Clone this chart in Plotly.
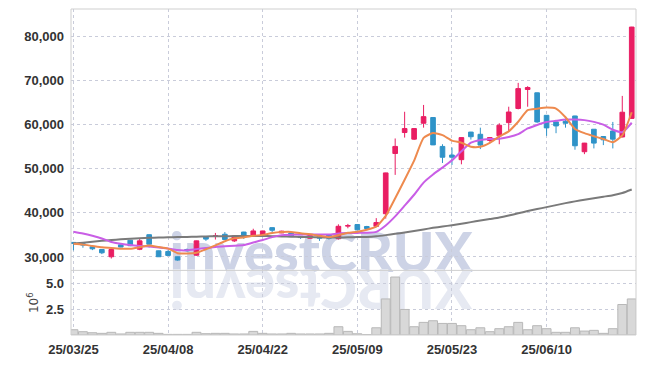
import plotly.graph_objects as go

dates = [
    "2025-03-25", "2025-03-26", "2025-03-27", "2025-03-28", "2025-03-31",
    "2025-04-01", "2025-04-02", "2025-04-03", "2025-04-04", "2025-04-07",
    "2025-04-08", "2025-04-09", "2025-04-10", "2025-04-11", "2025-04-14",
    "2025-04-15", "2025-04-16", "2025-04-17", "2025-04-18", "2025-04-21",
    "2025-04-22", "2025-04-23", "2025-04-24", "2025-04-25", "2025-04-28",
    "2025-04-29", "2025-04-30", "2025-05-02", "2025-05-07", "2025-05-08",
    "2025-05-09", "2025-05-12", "2025-05-13", "2025-05-14", "2025-05-15",
    "2025-05-16", "2025-05-19", "2025-05-20", "2025-05-21", "2025-05-22",
    "2025-05-23", "2025-05-26", "2025-05-27", "2025-05-28", "2025-05-29",
    "2025-05-30", "2025-06-02", "2025-06-04", "2025-06-05", "2025-06-09",
    "2025-06-10", "2025-06-11", "2025-06-12", "2025-06-13", "2025-06-16",
    "2025-06-17", "2025-06-18", "2025-06-19", "2025-06-20", "2025-06-23",
]

opens = [33300, 33000, 32300, 31700, 30050, 32750, 33800, 31750, 35050, 31400,
         31250, 30050, 31700, 30400, 34550, 34700, 35150, 33650, 35650, 34750,
         34750, 36650, 35450, 35450, 34700, 34250, 34700, 35050, 34150, 37000,
         37350, 36900, 36950, 39800, 53450, 58200, 56700, 60300, 61600, 55050,
         53100, 52050, 58300, 57800, 56400, 57450, 60450, 63650, 67950, 67200,
         62100, 60600, 60750, 61950, 53850, 58950, 57300, 58550, 57200, 61400]
highs = [33400, 33050, 32500, 31750, 31800, 32800, 33850, 34250, 35100, 31450,
         31550, 30100, 31900, 33700, 34600, 35450, 35650, 34850, 35700, 36400,
         35950, 36700, 35950, 35500, 34750, 34900, 34750, 35100, 37400, 37500,
         37400, 37050, 38800, 49100, 56850, 62900, 59200, 64450, 61650, 55550,
         54800, 57100, 58350, 59300, 57150, 60300, 64050, 69450, 68700, 67250,
         62150, 60650, 61350, 62000, 55850, 59000, 57350, 60600, 66500, 82150]
lows = [31500, 32100, 31550, 30650, 29650, 32200, 32450, 31550, 32150, 30000,
        30300, 29150, 31200, 30300, 33650, 33950, 33900, 33400, 34100, 34550,
        34550, 35600, 35400, 34650, 34100, 34150, 33650, 33950, 33950, 36500,
        36000, 36300, 36800, 38700, 48600, 57050, 56500, 59300, 55350, 51300,
        50850, 51000, 56600, 54450, 56100, 55550, 58550, 63450, 64050, 60400,
        57450, 58050, 59300, 54300, 53300, 54600, 55350, 54600, 57100, 61300]
closes = [33100, 32700, 31850, 30950, 31700, 32250, 32550, 33650, 32900, 30050,
          30350, 29300, 31400, 33650, 34050, 34800, 33950, 34770, 34550, 35900,
          35900, 36050, 35850, 34700, 34400, 34850, 34250, 34250, 36950, 37100,
          36150, 36450, 37800, 49050, 55050, 59100, 59100, 61800, 55400, 52600,
          52600, 57050, 57250, 55350, 57050, 59850, 62850, 68150, 68400, 60600,
          59250, 59700, 60300, 55200, 55800, 55800, 56550, 56700, 62800, 82100]

ma5 = [33000, 32800, 32500, 32200, 32060, 31890, 31860, 32220, 32610, 32270,
       31900, 30850, 30800, 30950, 31750, 32640, 33570, 34240, 34420, 34790,
       35010, 35430, 35650, 35680, 35380, 35170, 34810, 34490, 34940, 35480,
       35740, 36180, 36890, 39310, 43320, 47490, 51820, 56980, 58090, 57600,
       56370, 55890, 54980, 54970, 55860, 57310, 58470, 60650, 63260, 63580,
       63850, 63620, 61650, 59010, 58050, 57360, 56730, 56010, 57530, 62790]
ma10 = [35700, 35300, 34800, 34200, 33400, 33000, 32700, 32500, 32350, 32170,
        31900, 31560, 31510, 31780, 32020, 32270, 32410, 32520, 32690, 33270,
        33830, 34500, 34950, 35050, 35090, 35090, 35120, 35070, 35310, 35430,
        35460, 35500, 35690, 37130, 39190, 41620, 44100, 46860, 48700, 50250,
        51900, 53960, 55900, 56530, 56730, 56810, 57180, 57820, 59120, 59920,
        60580, 60850, 61150, 61140, 61010, 60610, 59980, 58830, 58270, 60420]
ma60 = [33050, 33250, 33450, 33650, 33850, 34000, 34150, 34250, 34350, 34400,
        34450, 34500, 34550, 34600, 34650, 34700, 34700, 34750, 34750, 34750,
        34750, 34700, 34650, 34600, 34550, 34500, 34450, 34400, 34400, 34450,
        34500, 34550, 34700, 34950, 35250, 35550, 35900, 36250, 36600, 36900,
        37200, 37550, 37900, 38250, 38600, 38950, 39400, 39900, 40400, 40850,
        41300, 41750, 42200, 42600, 42950, 43300, 43650, 44000, 44500, 45300]

volume_m = [0.51, 0.32, 0.22, 0.16, 0.26, 0.10, 0.26, 0.26, 0.26, 0.16,
            0.06, 0.06, 0.06, 0.26, 0.13, 0.16, 0.16, 0.10, 0.10, 0.35,
            0.16, 0.10, 0.10, 0.16, 0.10, 0.10, 0.10, 0.16, 0.80, 0.35,
            0.12, 0.04, 0.70, 3.49, 5.61, 2.47, 0.80, 1.22, 1.38, 1.12,
            1.12, 0.90, 0.51, 0.70, 0.32, 0.61, 0.80, 1.22, 0.51, 0.90,
            0.61, 0.26, 0.26, 0.70, 0.38, 0.45, 0.16, 0.61, 2.95, 3.49]

price_ticks = [30000, 40000, 50000, 60000, 70000, 80000]
vol_ticks = [2.5, 5.0]
tick_dates = dates[::10]
tick_text = [d[2:].replace("-", "/") for d in tick_dates]

PINK = "#E91E63"
BLUE = "#2F93C8"
ORANGE = "#EE8A4E"
PURPLE = "#C95EE6"
GRAY = "#7A7A7A"
GRID = "#C9CCDA"
FRAME = "#CFCFCF"
FONT = "Liberation Sans Narrow, Liberation Sans, sans-serif"
TICKFONT = dict(family=FONT, size=13, color="#333333", weight="bold")

fig = go.Figure()
fig.add_trace(go.Candlestick(
    x=dates, open=opens, high=highs, low=lows, close=closes,
    increasing=dict(line=dict(color=PINK, width=1), fillcolor=PINK),
    decreasing=dict(line=dict(color=BLUE, width=1), fillcolor=BLUE),
    whiskerwidth=0, showlegend=False, hoverinfo="skip",
    xaxis="x", yaxis="y",
))
for vals, col in [(ma60, GRAY), (ma10, PURPLE), (ma5, ORANGE)]:
    fig.add_trace(go.Scatter(
        x=dates, y=vals, mode="lines",
        line=dict(color=col, width=2, shape="spline", smoothing=0.5),
        showlegend=False, hoverinfo="skip", xaxis="x", yaxis="y",
    ))
fig.add_trace(go.Bar(
    x=dates, y=volume_m,
    marker=dict(color="#D8D8D8", line=dict(color="#B8B8B8", width=1)),
    showlegend=False, hoverinfo="skip", xaxis="x", yaxis="y2",
))

split = 65 / 328.0
wm_x = (321 - 71) / 565.0
wm_y = (337 - 251) / 328.0
rf_y = (337 - 293) / 328.0

fig.update_layout(
    width=645, height=366,
    margin=dict(l=71, r=9, t=9, b=29),
    paper_bgcolor="white", plot_bgcolor="white",
    bargap=0.06,
    font=dict(family=FONT, size=13, color="#333333"),
    xaxis=dict(
        type="category", range=[-0.26, 59.45], anchor="y2",
        tickmode="array", tickvals=tick_dates, ticktext=tick_text,
        showgrid=True, gridcolor=GRID, griddash="dot", gridwidth=1,
        rangeslider=dict(visible=False), showline=False, zeroline=False,
        ticks="", ticklabelstandoff=5, tickfont=TICKFONT,
    ),
    yaxis=dict(
        domain=[split, 1], range=[26960, 86190],
        tickmode="array", tickvals=price_ticks, tickformat=",d",
        showgrid=True, gridcolor=GRID, griddash="dot", gridwidth=1,
        zeroline=False, showline=False, ticks="", ticklabelstandoff=6,
        tickfont=TICKFONT,
    ),
    yaxis2=dict(
        domain=[0, split], range=[0, 6.25],
        tickmode="array", tickvals=vol_ticks, ticktext=["2.5", "5.0"],
        showgrid=True, gridcolor=GRID, griddash="dot", gridwidth=1,
        zeroline=False, showline=False, ticks="", ticklabelstandoff=6,
        tickfont=TICKFONT,
        title=dict(text="10<sup>6</sup>", standoff=4,
                   font=dict(family="DejaVu Sans", size=12, color="#444444")),
    ),
    shapes=[
        dict(type="rect", xref="paper", yref="paper",
             x0=wm_x - 0.3, x1=wm_x + 0.3, y0=wm_y - 0.08, y1=wm_y + 0.08,
             line=dict(width=0), fillcolor="rgba(0,0,0,0)", layer="below",
             label=dict(text="investCRUX", textposition="middle center",
                        padding=0,
                        font=dict(family="Lato", size=56, weight=900,
                                  color="#CDD3E6"))),
        dict(type="rect", xref="paper", yref="paper",
             x0=wm_x - 0.3, x1=wm_x + 0.3, y0=rf_y - 0.08, y1=rf_y + 0.08,
             line=dict(width=0), fillcolor="rgba(0,0,0,0)", layer="below",
             label=dict(text="XURCtsevni", textposition="middle center",
                        textangle=180, padding=0,
                        font=dict(family="Lato", size=56, weight=900,
                                  color="#E6E9F2"))),
        dict(type="rect", xref="paper", yref="paper", x0=0, x1=1, y0=0, y1=1,
             line=dict(color=FRAME, width=1), layer="above"),
        dict(type="line", xref="paper", yref="paper", x0=0, x1=1,
             y0=split, y1=split, line=dict(color=FRAME, width=1),
             layer="above"),
    ],
)

fig.write_html("out.html")
